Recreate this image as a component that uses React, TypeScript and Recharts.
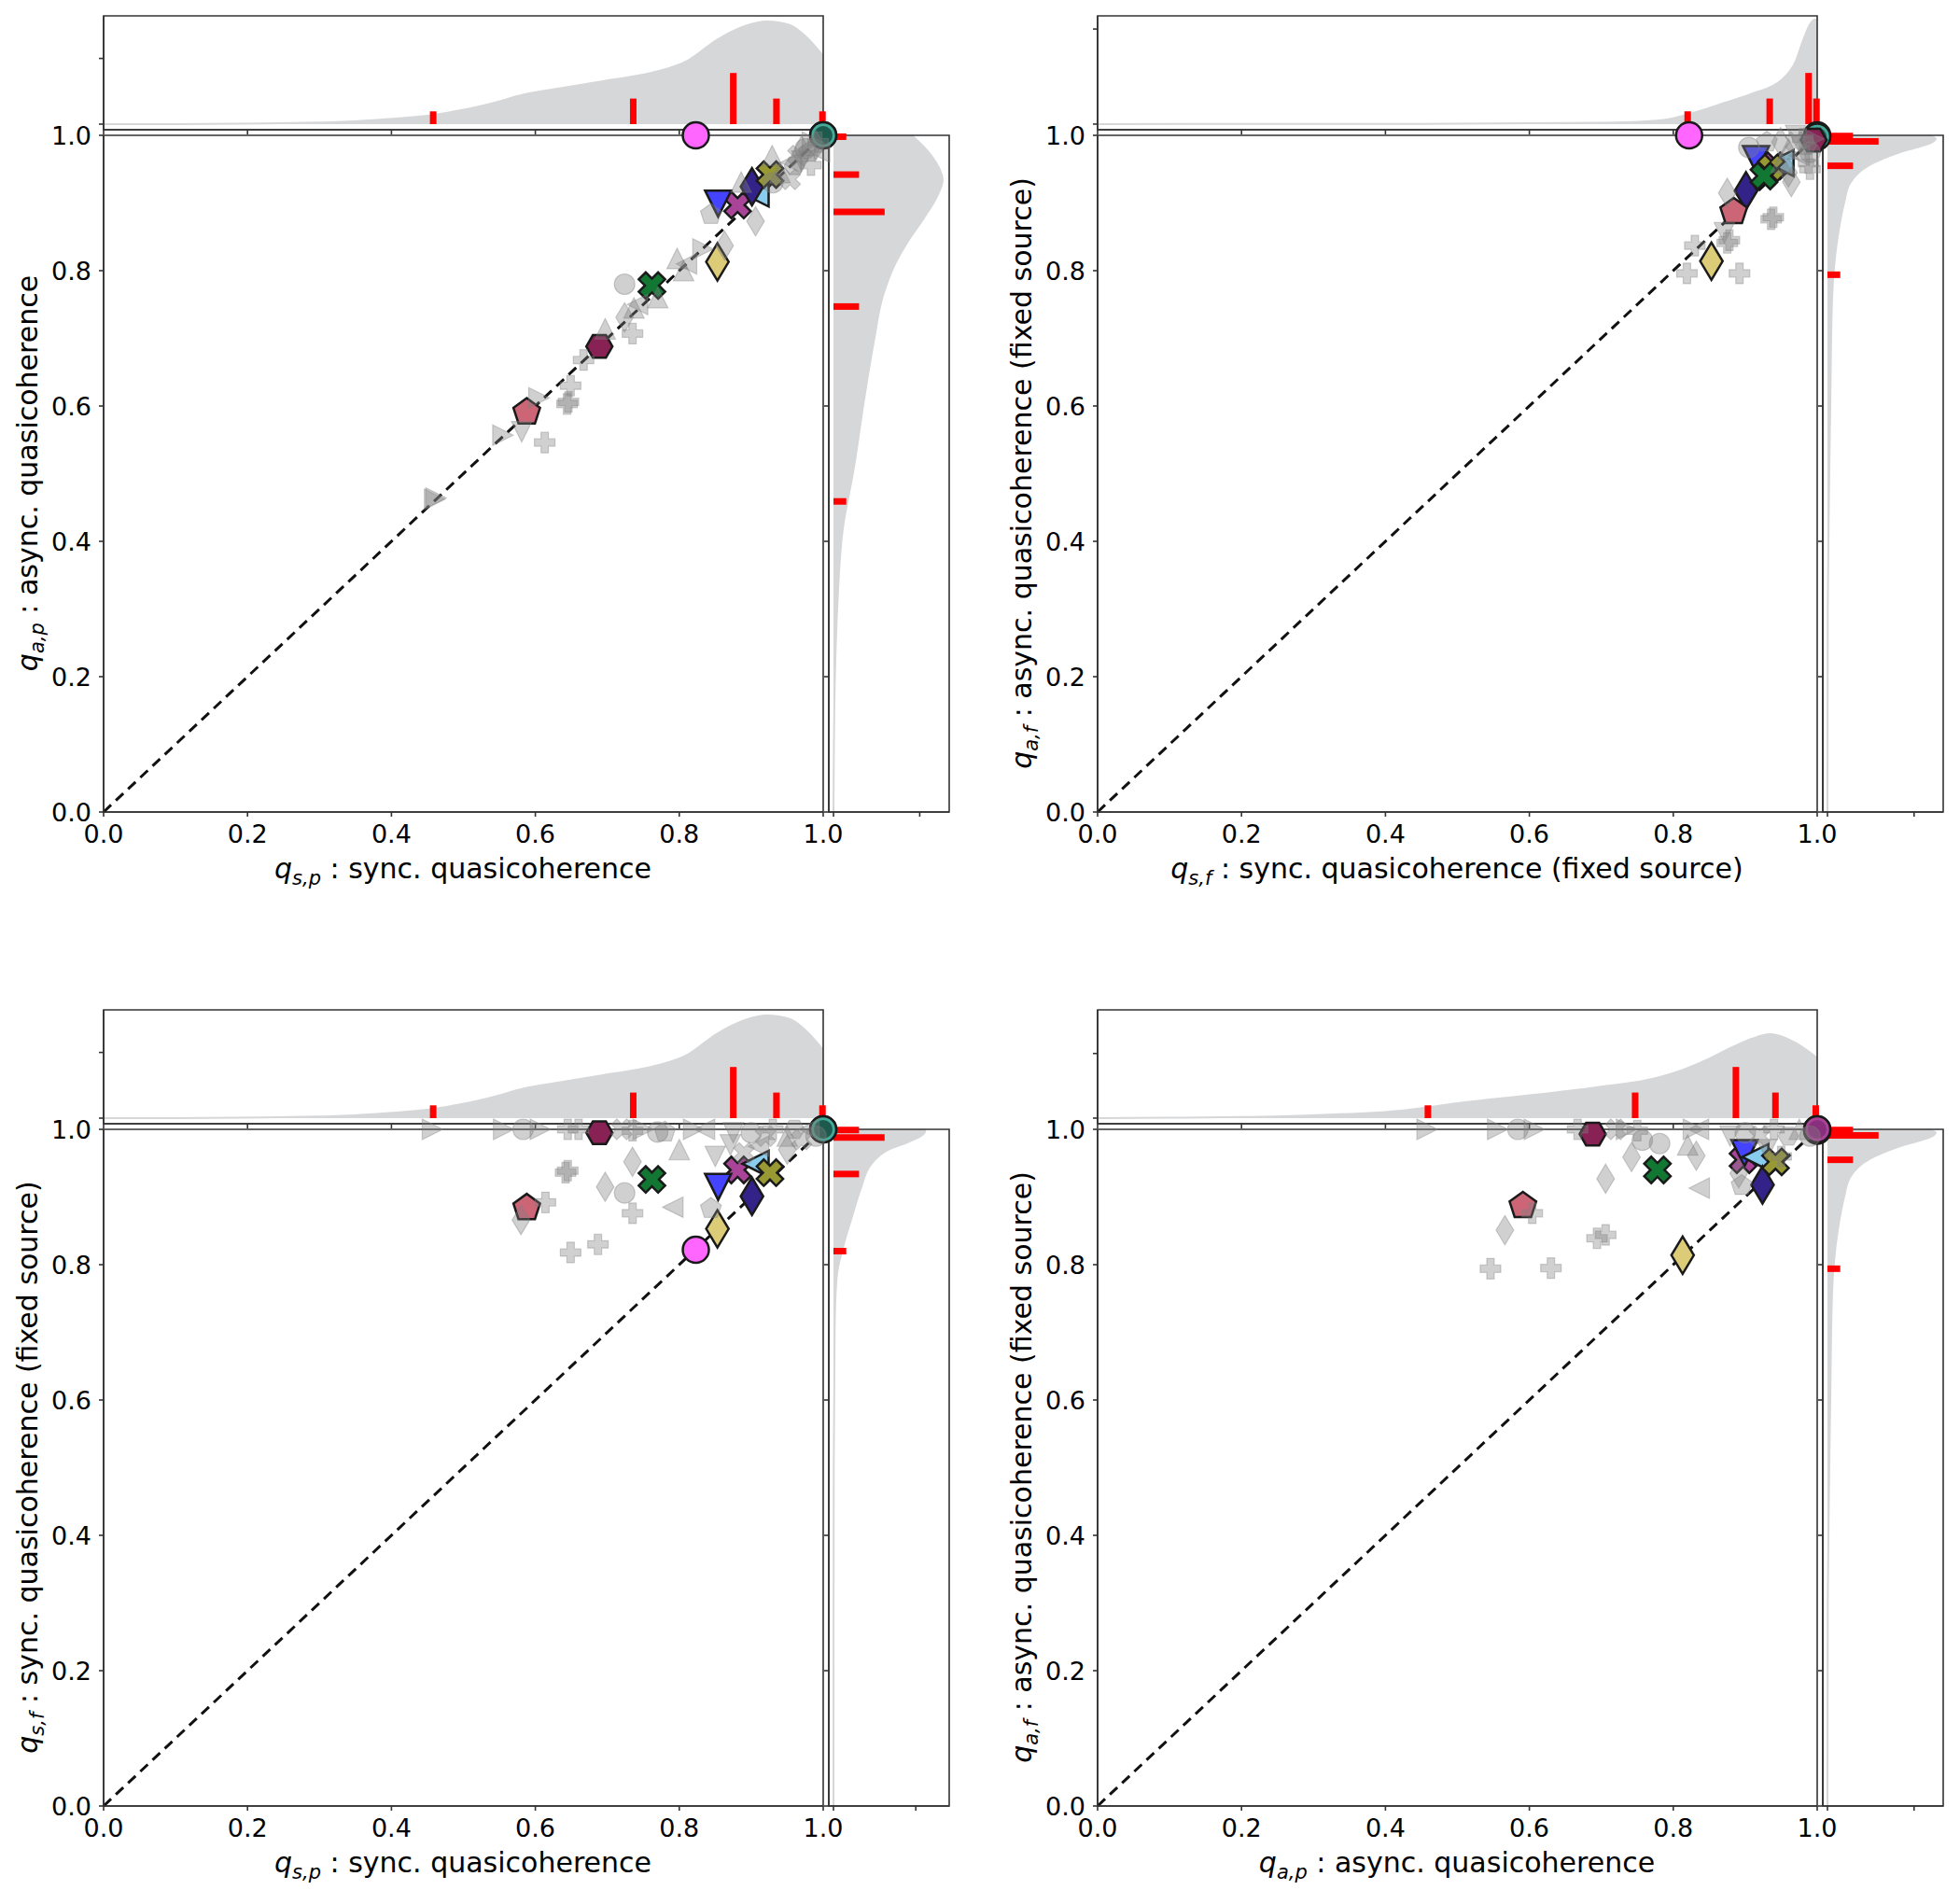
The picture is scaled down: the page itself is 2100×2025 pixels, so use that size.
import React from 'react'
import { ComposedChart, Scatter, Area, XAxis, YAxis, ReferenceLine, ReferenceArea } from 'recharts'

type Shape = 'o' | '^' | 'v' | '<' | '>' | 'd' | 'P' | 'X' | 'p' | 'H'
type Pt = [number, number, Shape]

// highlighted models (same order in every array, drawn in this order)
const MODEL_SHAPES: Shape[] = ['o', 'o', 'o', 'X', 'v', '<', 'd', 'X', 'X', 'H', 'p', 'd']
const MODEL_COLORS = ['#FF66FF', '#AA4499', '#44AA99', '#AA4499', '#4444FF', '#88CCEE', '#332288', '#999933', '#117733', '#882255', '#CC6677', '#DDCC77']
const MODEL_CORES: (string | null)[] = [null, '#8a2f7e', '#1d5a4e', null, null, null, null, null, null, null, null, null]
const Q_SP = [0.823, 1.0, 1.0, 0.881, 0.854, 0.906, 0.901, 0.926, 0.762, 0.689, 0.588, 0.853]
const Q_AP = [1.0, 1.0, 1.0, 0.897, 0.899, 0.914, 0.924, 0.942, 0.778, 0.688, 0.591, 0.813]
const Q_SF = [0.822, 1.0, 1.0, 0.94, 0.915, 0.949, 0.901, 0.936, 0.926, 0.995, 0.884, 0.853]
const Q_AF = [1.0, 1.0, 0.998, 0.955, 0.965, 0.959, 0.918, 0.952, 0.94, 0.993, 0.887, 0.814]

// other models, one list per panel
const GRAY_SP_AP: Pt[] = [
  [0.46, 0.462, '>'], [0.462, 0.464, '>'], [0.555, 0.557, '>'], [0.581, 0.562, 'v'], [0.613, 0.546, 'P'],
  [0.605, 0.612, '>'], [0.644, 0.603, 'P'], [0.646, 0.606, 'P'], [0.649, 0.63, 'P'], [0.667, 0.668, 'P'],
  [0.697, 0.714, '^'], [0.724, 0.78, 'o'], [0.735, 0.707, 'P'], [0.724, 0.731, 'd'], [0.737, 0.745, '^'],
  [0.742, 0.75, '<'], [0.77, 0.76, '^'], [0.797, 0.818, '^'], [0.806, 0.8, '^'], [0.81, 0.81, '<'],
  [0.833, 0.832, '>'], [0.863, 0.837, 'd'], [0.844, 0.883, 'p'], [0.886, 0.931, '^'], [0.906, 0.873, 'd'],
  [0.929, 0.97, '^'], [0.954, 0.935, 'X'], [0.983, 0.956, 'P'], [0.93, 0.93, 'o'], [0.94, 0.945, '^'],
  [0.955, 0.96, '<'], [0.96, 0.955, 'H'], [0.965, 0.97, 'X'], [0.97, 0.962, 'v'], [0.975, 0.98, 'o'],
  [0.98, 0.975, 'p'], [0.985, 0.99, '>'], [0.99, 0.985, 'd'], [0.993, 0.99, 'P'], [0.97, 0.985, '^'],
  [0.995, 0.975, '<'],
]
const GRAY_SF_AF: Pt[] = [
  [0.819, 0.796, 'P'], [0.892, 0.796, 'P'], [0.83, 0.837, 'P'], [0.875, 0.841, 'P'], [0.878, 0.845, 'P'],
  [0.871, 0.856, 'v'], [0.936, 0.876, 'P'], [0.939, 0.879, 'P'], [0.875, 0.915, 'd'], [0.964, 0.931, 'd'],
  [0.905, 0.982, 'o'], [0.988, 0.959, 'P'], [0.949, 0.99, 'd'], [0.96, 0.98, '^'], [0.97, 0.99, 'X'],
  [0.975, 0.97, '<'], [0.98, 0.995, 'P'], [0.985, 0.985, 'H'], [0.99, 0.975, 'o'], [0.995, 0.995, '>'],
  [0.97, 1.0, 'v'], [0.99, 0.95, 'P'], [0.93, 0.99, 'p'], [0.95, 0.96, '^'], [0.96, 0.945, 'd'],
]
const GRAY_SP_SF: Pt[] = [
  [0.457, 1.0, '>'], [0.556, 1.0, '>'], [0.583, 1.0, 'o'], [0.607, 1.0, '>'], [0.645, 1.0, 'P'],
  [0.66, 1.0, 'P'], [0.72, 1.0, 'X'], [0.735, 0.998, 'P'], [0.75, 1.0, '>'], [0.77, 0.996, 'o'],
  [0.78, 0.996, 'p'], [0.82, 1.0, '>'], [0.835, 1.0, '<'], [0.875, 0.995, 'v'], [0.9, 0.995, 'o'],
  [0.92, 0.99, 'X'], [0.93, 1.0, 'P'], [0.95, 0.99, '^'], [0.96, 1.0, 'H'], [0.97, 0.985, 'X'],
  [0.98, 1.0, '<'], [0.99, 0.99, 'o'],
  [0.735, 0.952, 'd'], [0.8, 0.97, '^'], [0.697, 0.915, 'd'], [0.724, 0.906, 'o'], [0.642, 0.936, 'P'],
  [0.645, 0.939, 'P'], [0.614, 0.892, 'P'], [0.735, 0.876, 'P'], [0.791, 0.885, '<'], [0.844, 0.883, 'p'],
  [0.649, 0.818, 'P'], [0.687, 0.83, 'P'], [0.58, 0.866, 'd'], [0.871, 0.977, 'v'], [0.89, 0.965, 'X'],
  [0.91, 0.975, '<'], [0.95, 0.97, 'd'], [0.85, 0.96, 'v'],
]
const GRAY_AP_AF: Pt[] = [
  [0.458, 1.0, '>'], [0.556, 1.0, '>'], [0.584, 1.0, 'o'], [0.607, 1.0, '>'], [0.667, 1.0, 'P'],
  [0.72, 1.0, 'X'], [0.735, 1.0, '>'], [0.75, 0.998, 'P'], [0.828, 1.0, '>'], [0.835, 1.0, '<'],
  [0.879, 0.99, 'v'], [0.9, 0.995, 'o'], [0.92, 0.99, 'X'], [0.94, 1.0, 'P'], [0.96, 0.99, 'H'],
  [0.975, 1.0, '^'], [0.99, 0.99, 'o'],
  [0.757, 0.984, 'o'], [0.781, 0.979, 'o'], [0.742, 0.959, 'd'], [0.832, 0.961, 'd'], [0.706, 0.927, 'd'],
  [0.82, 0.977, '^'], [0.836, 0.913, '<'], [0.895, 0.917, 'p'], [0.891, 0.935, 'd'], [0.604, 0.876, 'P'],
  [0.566, 0.851, 'd'], [0.694, 0.839, 'P'], [0.706, 0.844, 'P'], [0.546, 0.794, 'P'], [0.63, 0.795, 'P'],
  [0.93, 0.97, 'v'], [0.95, 0.96, 'P'],
]

// marginal densities (relative, peak = 1) and counts of highlighted models
const KDE_SP = [[0, 0], [0.1, 0.001], [0.222, 0.006], [0.3, 0.016], [0.34, 0.025], [0.38, 0.041], [0.419, 0.061], [0.46, 0.091], [0.497, 0.136], [0.537, 0.197], [0.584, 0.288], [0.631, 0.345], [0.694, 0.418], [0.74, 0.47], [0.773, 0.52], [0.812, 0.62], [0.852, 0.82], [0.891, 0.955], [0.922, 1.0], [0.954, 0.964], [0.977, 0.845], [1.0, 0.664]]
const KDE_AP = [[0, 0], [0.1, 0.004], [0.2, 0.013], [0.3, 0.034], [0.418, 0.085], [0.51, 0.188], [0.603, 0.274], [0.694, 0.368], [0.763, 0.453], [0.81, 0.564], [0.846, 0.692], [0.878, 0.829], [0.91, 0.949], [0.934, 1.0], [0.97, 0.897], [1.0, 0.718]]
const KDE_SF = [[0, 0], [0.5, 0.003], [0.7, 0.013], [0.753, 0.022], [0.792, 0.045], [0.832, 0.116], [0.872, 0.205], [0.911, 0.295], [0.95, 0.42], [0.97, 0.6], [0.982, 0.83], [0.99, 0.955], [0.997, 1.0], [1.0, 1.0]]
const KDE_AF = [[0, 0], [0.3, 0.003], [0.4, 0.009], [0.5, 0.017], [0.6, 0.026], [0.759, 0.043], [0.851, 0.095], [0.901, 0.155], [0.929, 0.207], [0.956, 0.388], [0.975, 0.672], [0.989, 0.957], [0.995, 1.0], [1.0, 0.93]]
const HIST_SP = [[0.458, 1], [0.736, 2], [0.875, 4], [0.935, 2], [0.999, 1]]
const HIST_AP = [[0.459, 1], [0.747, 2], [0.887, 4], [0.942, 2], [0.998, 1]]
const HIST_SF = [[0.82, 1], [0.934, 2], [0.988, 4], [0.999, 2]]
const HIST_AF = [[0.794, 1], [0.955, 2], [0.991, 4], [0.999, 2]]

const TICKS = [0, 0.2, 0.4, 0.6, 0.8, 1.0]
const FONT = '"DejaVu Sans", sans-serif'
const AX = '#333333'
const KDE_FILL = '#d6d7d9'
const CW = 1050
const CH = 1000
const TOP_H = 122 // marginal plot heights in px
const RIGHT_W = 129
const PX_PER_COUNT = 13.7

type Title = [string, string, string]
interface PanelSpec {
  left: number; top: number
  xs: number[]; ys: number[]; gray: Pt[]
  topKde: number[][]; topHist: number[][]; topDom: [number, number]; topTick: number
  rightKde: number[][]; rightHist: number[][]; rightDom: [number, number]; rightTick: number
  xTitle: Title; yTitle: Title; front: number[]
}

const PANELS: PanelSpec[] = [
  { left: 0, top: 0, xs: Q_SP, ys: Q_AP, gray: GRAY_SP_AP,
    topKde: KDE_SP, topHist: HIST_SP, topDom: [-0.0545, 1.0545], topTick: 0.64,
    rightKde: KDE_AP, rightHist: HIST_AP, rightDom: [-0.043, 1.06], rightTick: 0.79,
    xTitle: ['q', 's,p', 'sync. quasicoherence'], yTitle: ['q', 'a,p', 'async. quasicoherence'], front: [] },
  { left: 1065, top: 0, xs: Q_SF, ys: Q_AF, gray: GRAY_SF_AF,
    topKde: KDE_SF, topHist: HIST_SF, topDom: [-0.054, 1.036], topTick: 0.91,
    rightKde: KDE_AF, rightHist: HIST_AF, rightDom: [-0.043, 1.069], rightTick: 0.8,
    xTitle: ['q', 's,f', 'sync. quasicoherence (fixed source)'], yTitle: ['q', 'a,f', 'async. quasicoherence (fixed source)'], front: [] },
  { left: 0, top: 1065, xs: Q_SP, ys: Q_SF, gray: GRAY_SP_SF,
    topKde: KDE_SP, topHist: HIST_SP, topDom: [-0.0545, 1.0545], topTick: 0.64,
    rightKde: KDE_SF, rightHist: HIST_SF, rightDom: [-0.051, 1.265], rightTick: 0.9,
    xTitle: ['q', 's,p', 'sync. quasicoherence'], yTitle: ['q', 's,f', 'sync. quasicoherence (fixed source)'], front: [] },
  { left: 1065, top: 1065, xs: Q_AP, ys: Q_AF, gray: GRAY_AP_AF,
    topKde: KDE_AP, topHist: HIST_AP, topDom: [-0.067, 1.29], topTick: 0.77,
    rightKde: KDE_AF, rightHist: HIST_AF, rightDom: [-0.043, 1.069], rightTick: 0.8,
    xTitle: ['q', 'a,p', 'async. quasicoherence'], yTitle: ['q', 'a,f', 'async. quasicoherence (fixed source)'], front: [1] },
]

function poly(pts: number[][]) {
  return 'M' + pts.map(([a, b]) => `${a.toFixed(2)},${b.toFixed(2)}`).join('L') + 'Z'
}
function ngon(n: number, rad: number, start: number) {
  const pts: number[][] = []
  for (let i = 0; i < n; i++) {
    const t = ((start + (i * 360) / n) * Math.PI) / 180
    pts.push([rad * Math.cos(t), rad * Math.sin(t)])
  }
  return poly(pts)
}
function plusPts(r: number) {
  const t = 0.36 * r
  return [[-t, -r], [t, -r], [t, -t], [r, -t], [r, t], [t, t], [t, r], [-t, r], [-t, t], [-r, t], [-r, -t], [-t, -t]]
}
function markerPath(shape: Shape, r: number) {
  switch (shape) {
    case '^': return poly([[0, -r], [r, r], [-r, r]])
    case 'v': return poly([[-r, -r], [r, -r], [0, r]])
    case '<': return poly([[-r, 0], [r, -r], [r, r]])
    case '>': return poly([[r, 0], [-r, -r], [-r, r]])
    case 'd': return poly([[0, -1.43 * r], [0.86 * r, 0], [0, 1.43 * r], [-0.86 * r, 0]])
    case 'p': return ngon(5, 1.07 * r, -90)
    case 'H': return ngon(6, r, 0)
    case 'P': return poly(plusPts(r))
    case 'X': {
      const c = Math.SQRT1_2
      return poly(plusPts(1.05 * r).map(([a, b]) => [c * (a - b), c * (a + b)]))
    }
    default: return ''
  }
}

function Marker({ cx, cy, shape, r, fill, stroke, sw, opacity, core }: any) {
  if (cx == null || cy == null) return <g />
  const common = { fill, stroke, strokeWidth: sw, fillOpacity: opacity, strokeOpacity: opacity }
  if (shape === 'o') {
    return (
      <g>
        <circle cx={cx} cy={cy} r={r} {...common} />
        {core ? <circle cx={cx} cy={cy} r={r - 4} fill={core} /> : null}
      </g>
    )
  }
  return <path d={markerPath(shape, r)} transform={`translate(${cx},${cy})`} {...common} />
}

const NoTick = () => <g />
function XTick(p: any) {
  return (
    <text x={p.x} y={p.y + 26} textAnchor="middle" fontSize={27} fontFamily={FONT} fill="#000">
      {Number(p.payload.value).toFixed(1)}
    </text>
  )
}
function YTick(p: any) {
  return (
    <text x={p.x - 6} y={p.y + 10} textAnchor="end" fontSize={27} fontFamily={FONT} fill="#000">
      {Number(p.payload.value).toFixed(1)}
    </text>
  )
}

const axisLine = { stroke: AX, strokeWidth: 1.6 }

function TopMarginal({ kde, hist, dom, tick }: { kde: number[][]; hist: number[][]; dom: [number, number]; tick: number }) {
  const data = kde.map(([v, d]) => ({ v, d }))
  const perCount = (PX_PER_COUNT * (dom[1] - dom[0])) / TOP_H
  return (
    <div style={{ position: 'absolute', left: 0, top: 0 }}>
      <ComposedChart width={CW} height={160} data={data} margin={{ top: 17, left: 101, right: 168, bottom: 11 }}>
        <XAxis type="number" dataKey="v" domain={[0, 1]} ticks={TICKS} interval={0} height={10} tickSize={5}
          tick={NoTick} axisLine={axisLine} tickLine={axisLine} />
        <YAxis type="number" domain={dom} ticks={[0, tick]} interval={0} width={10} tickSize={5}
          tick={NoTick} axisLine={axisLine} tickLine={axisLine} />
        <Area dataKey="d" type="monotone" baseValue={0} fill={KDE_FILL} fillOpacity={1} stroke={KDE_FILL}
          strokeWidth={2} dot={false} activeDot={false} isAnimationActive={false} />
        {hist.map(([v, n]) => (
          <ReferenceLine key={v} segment={[{ x: v, y: 0 }, { x: v, y: n * perCount }]} stroke="#ff0000" strokeWidth={7} />
        ))}
        <ReferenceArea x1={0} x2={1} y1={dom[0]} y2={dom[1]} fill="none" stroke={AX} strokeWidth={1.6} />
      </ComposedChart>
    </div>
  )
}

function RightMarginal({ kde, hist, dom, tick }: { kde: number[][]; hist: number[][]; dom: [number, number]; tick: number }) {
  const data = kde.map(([v, d]) => ({ v, d }))
  const perCount = (PX_PER_COUNT * (dom[1] - dom[0])) / RIGHT_W
  return (
    <div style={{ position: 'absolute', left: 0, top: 0 }}>
      <ComposedChart layout="vertical" width={CW} height={CH} data={data} margin={{ top: 145, left: 878, right: 33, bottom: 120 }}>
        <XAxis type="number" dataKey="d" domain={dom} ticks={[0, tick]} interval={0} height={10} tickSize={5}
          tick={NoTick} axisLine={axisLine} tickLine={axisLine} />
        <YAxis type="number" dataKey="v" domain={[0, 1]} reversed ticks={TICKS} interval={0} width={10} tickSize={5}
          tick={NoTick} axisLine={axisLine} tickLine={axisLine} />
        <Area dataKey="d" type="monotone" baseValue={0} fill={KDE_FILL} fillOpacity={1} stroke={KDE_FILL}
          strokeWidth={2} dot={false} activeDot={false} isAnimationActive={false} />
        {hist.map(([v, n]) => (
          <ReferenceLine key={v} segment={[{ x: 0, y: v }, { x: n * perCount, y: v }]} stroke="#ff0000" strokeWidth={7} />
        ))}
        <ReferenceArea x1={dom[0]} x2={dom[1]} y1={0} y2={1} fill="none" stroke={AX} strokeWidth={1.6} />
      </ComposedChart>
    </div>
  )
}

function MainChart({ spec }: { spec: PanelSpec }) {
  const order = MODEL_SHAPES.map((_, i) => i).filter((i) => !spec.front.includes(i)).concat(spec.front)
  const models = order.map((i) => ({
    x: spec.xs[i], y: spec.ys[i], shape: MODEL_SHAPES[i], color: MODEL_COLORS[i], core: MODEL_CORES[i],
  }))
  const others = spec.gray.map(([x, y, shape]) => ({ x, y, shape }))
  return (
    <div style={{ position: 'absolute', left: 0, top: 0 }}>
      <ComposedChart width={CW} height={CH} margin={{ top: 145, left: 51, right: 168, bottom: 90 }}>
        <XAxis type="number" dataKey="x" domain={[0, 1]} ticks={TICKS} interval={0} height={40} tickSize={5}
          tick={XTick} axisLine={axisLine} tickLine={axisLine} />
        <YAxis type="number" dataKey="y" domain={[0, 1]} ticks={TICKS} interval={0} width={60} tickSize={5}
          tick={YTick} axisLine={axisLine} tickLine={axisLine} />
        <ReferenceArea x1={0} x2={1} y1={0} y2={1} fill="none" stroke={AX} strokeWidth={1.6} />
        <ReferenceLine segment={[{ x: 0, y: 0 }, { x: 1, y: 1 }]} stroke="#111" strokeWidth={3} strokeDasharray="11 7" />
        <Scatter data={models} isAnimationActive={false}
          shape={(p: any) => (
            <Marker cx={p.cx} cy={p.cy} shape={p.payload.shape} r={14} fill={p.payload.color} core={p.payload.core}
              stroke="#1a1a1a" sw={2.5} opacity={1} />
          )} />
        <Scatter data={others} isAnimationActive={false}
          shape={(p: any) => (
            <Marker cx={p.cx} cy={p.cy} shape={p.payload.shape} r={11} fill="#808080" stroke="#808080" sw={1.2} opacity={0.37} />
          )} />
      </ComposedChart>
    </div>
  )
}

function AxisTitle({ x, y, rot, t }: { x: number; y: number; rot?: boolean; t: Title }) {
  return (
    <text x={x} y={y} textAnchor="middle" fontSize={30} fontFamily={FONT} fill="#000"
      transform={rot ? `rotate(-90 ${x} ${y})` : undefined}>
      <tspan fontStyle="italic">{t[0]}</tspan>
      <tspan fontStyle="italic" fontSize={21} dy={7}>{t[1]}</tspan>
      <tspan dy={-7}>{' : ' + t[2]}</tspan>
    </text>
  )
}

function Panel({ spec }: { spec: PanelSpec }) {
  return (
    <div style={{ position: 'absolute', left: spec.left, top: spec.top, width: 1065, height: 1065 }}>
      <TopMarginal kde={spec.topKde} hist={spec.topHist} dom={spec.topDom} tick={spec.topTick} />
      <RightMarginal kde={spec.rightKde} hist={spec.rightHist} dom={spec.rightDom} tick={spec.rightTick} />
      <MainChart spec={spec} />
      <svg width={1065} height={1000} style={{ position: 'absolute', left: 0, top: 0, pointerEvents: 'none' }}>
        <AxisTitle x={496} y={941} t={spec.xTitle} />
        <AxisTitle x={40} y={507} rot t={spec.yTitle} />
      </svg>
    </div>
  )
}

export default function App() {
  return (
    <div style={{ position: 'absolute', left: 0, top: 0, width: 2100, height: 2025, background: '#fff', overflow: 'hidden' }}>
      {PANELS.map((p, i) => (
        <Panel key={i} spec={p} />
      ))}
    </div>
  )
}
